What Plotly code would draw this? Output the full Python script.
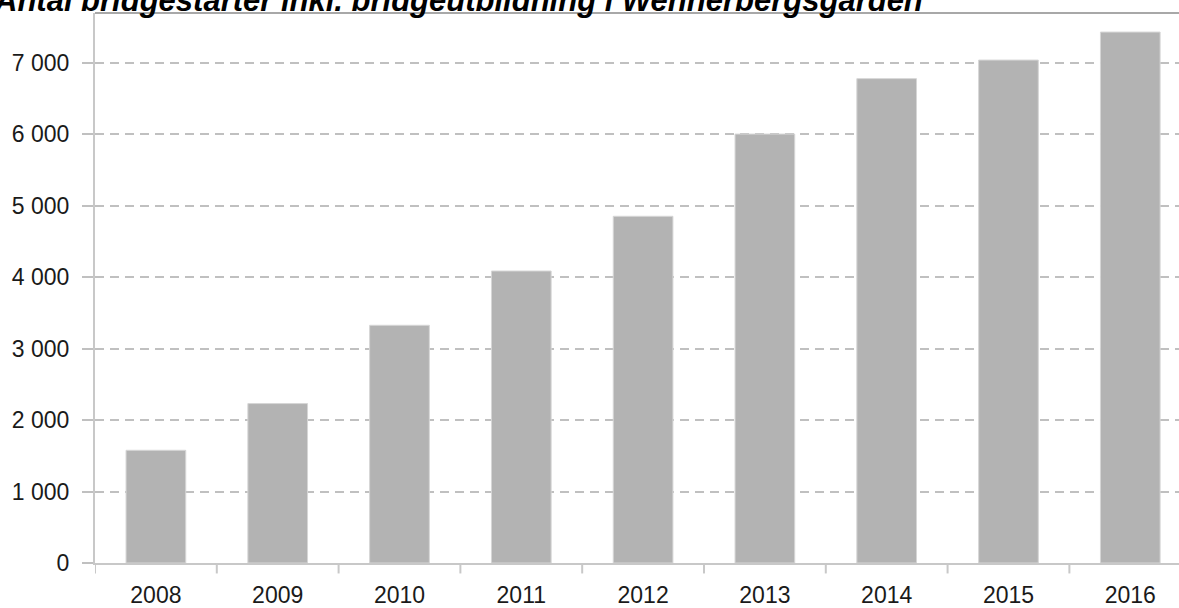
import plotly.graph_objects as go

years = ["2008", "2009", "2010", "2011", "2012", "2013", "2014", "2015", "2016"]
starts = [1578, 2232, 3328, 4088, 4854, 6005, 6781, 7041, 7433]
y_ticks = [0, 1000, 2000, 3000, 4000, 5000, 6000, 7000]
y_tick_text = ["0", "1 000", "2 000", "3 000", "4 000", "5 000", "6 000", "7 000"]
title_text = "Antal bridgestarter inkl. bridgeutbildning i Wennerbergsgården"

fig = go.Figure(go.Bar(
    x=list(range(len(years))), y=starts,
    width=0.49,
    marker=dict(color="#b3b3b3", line=dict(color="#d6d6d6", width=1)),
))

fig.update_layout(
    width=1179, height=608,
    margin=dict(l=95, r=0, t=13, b=45),
    plot_bgcolor="white", paper_bgcolor="white",
    showlegend=False,
    font=dict(family="Liberation Sans, Arial", size=23, color="#1a1a1a"),
    xaxis=dict(
        tickmode="array", tickvals=list(range(len(years))), ticktext=years,
        range=[-0.5, 8.40],
        showgrid=False, showline=True, linecolor="#c8c8c8", linewidth=2,
        ticks="", zeroline=False, ticklabelstandoff=10,
    ),
    yaxis=dict(
        tickmode="array", tickvals=y_ticks, ticktext=y_tick_text,
        range=[0, 7700],
        showgrid=True, gridcolor="#c0c0c0", griddash="9px,6px", gridwidth=2,
        showline=True, linecolor="#c8c8c8", linewidth=2,
        ticks="outside", ticklen=11, tickcolor="#c0c0c0", tickwidth=2,
        zeroline=False, ticklabelstandoff=8,
    ),
)

# x tick marks at category boundaries
for i in range(len(years)):
    fig.add_shape(type="line", xref="x", yref="paper",
                  x0=i - 0.5, x1=i - 0.5, y0=0, y1=-0.019,
                  line=dict(color="#c8c8c8", width=2))

# top border line
fig.add_shape(type="line", xref="paper", yref="paper",
              x0=0, x1=1, y0=1, y1=1,
              line=dict(color="#a8a8a8", width=2))

fig.add_annotation(
    text="<b><i>" + title_text + "</i></b>",
    xref="paper", yref="paper", x=-95/1084, y=1, xanchor="left", yanchor="bottom",
    yshift=-7, xshift=-8, showarrow=False,
    font=dict(family="Liberation Sans, Arial", size=31, color="#000000"),
)

fig.write_html("out.html")
